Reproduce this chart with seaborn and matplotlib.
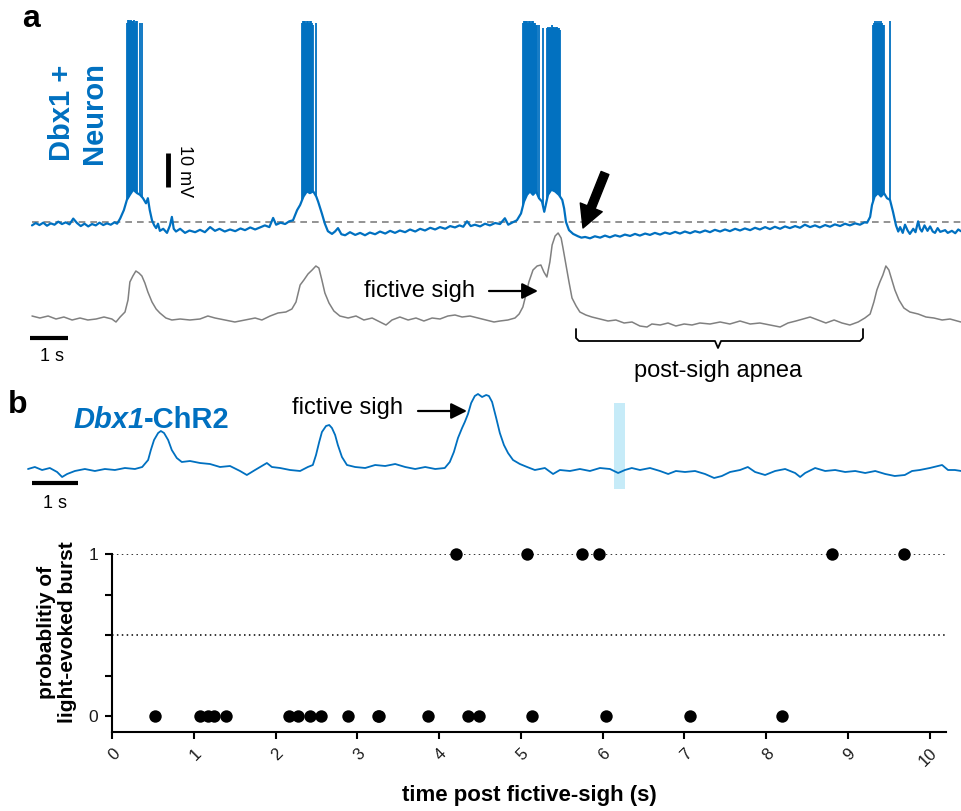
import numpy as np
import pandas as pd
import matplotlib
matplotlib.use("Agg")
import matplotlib.pyplot as plt
import seaborn as sns
from matplotlib.patches import Rectangle, FancyArrowPatch

# ---- panel a: Dbx1+ neuron membrane potential (time in s, mV) ----
neuron_t = [0.00, 0.10, 0.20, 0.30, 0.40, 0.50, 0.60, 0.70, 0.80, 0.90, 1.00, 1.10, 1.20, 1.30,
            1.40, 1.50, 1.60, 1.70, 1.80, 1.90, 2.00, 2.10, 2.20, 2.27, 2.35, 2.45, 2.53,
            2.61, 2.70, 2.80, 2.88, 2.96, 3.04, 3.09, 3.14, 3.20, 3.26, 3.31, 3.36, 3.41,
            3.50, 3.60, 3.68, 3.73, 3.78, 3.84, 3.95, 4.08, 4.20, 4.35, 4.48, 4.61, 4.75,
            4.88, 5.00, 5.14, 5.28, 5.42, 5.56, 5.68, 5.82, 5.95, 6.08, 6.21, 6.33, 6.43,
            6.51, 6.63, 6.75, 6.86, 6.96, 7.07, 7.15, 7.24, 7.33, 7.41, 7.50, 7.58, 7.63,
            7.73, 7.81, 7.89, 8.00, 8.08, 8.16, 8.25, 8.35, 8.48, 8.62, 8.75, 8.88, 9.01,
            9.15, 9.28, 9.42, 9.55, 9.68, 9.81, 9.95, 10.08, 10.22, 10.35, 10.48, 10.62,
            10.75, 10.88, 11.02, 11.15, 11.28, 11.40, 11.50, 11.60, 11.70, 11.81, 11.95,
            12.08, 12.21, 12.35, 12.48, 12.61, 12.70, 12.80, 12.93, 13.04, 13.12, 13.20,
            13.28, 13.36, 13.44, 13.52, 13.60, 13.66, 13.70, 13.76, 13.85, 13.95, 14.05,
            14.14, 14.19, 14.24, 14.32, 14.43, 14.56, 14.65, 14.75, 14.88, 15.01, 15.15,
            15.28, 15.41, 15.55, 15.68, 15.81, 15.95, 16.08, 16.21, 16.35, 16.48, 16.61,
            16.75, 16.88, 17.01, 17.15, 17.28, 17.41, 17.55, 17.68, 17.81, 17.95, 18.08,
            18.21, 18.35, 18.48, 18.61, 18.75, 18.88, 19.01, 19.15, 19.28, 19.41, 19.55,
            19.68, 19.81, 19.95, 20.08, 20.21, 20.35, 20.48, 20.61, 20.75, 20.88, 21.01,
            21.15, 21.28, 21.41, 21.55, 21.68, 21.81, 21.95, 22.08, 22.20, 22.27, 22.35,
            22.40, 22.47, 22.56, 22.64, 22.72, 22.80, 22.88, 22.96, 23.04, 23.10, 23.15,
            23.22, 23.28, 23.35, 23.41, 23.50, 23.56, 23.63, 23.68, 23.73, 23.80, 23.88,
            23.95, 24.02, 24.08, 24.15, 24.22, 24.35, 24.42, 24.53, 24.62, 24.70, 24.77]
neuron_mv = [-61.0, -60.3, -60.9, -60.2, -61.1, -60.4, -60.8, -59.9, -60.6, -60.1, -60.7, -59.0, -60.3, -61.2,
             -60.5, -61.3, -60.6, -61.0, -60.2, -60.9, -60.4, -60.8, -60.1, -60.5, -59.0, -56.5, -53.5,
             -52.0, -50.5, -51.5, -52.0, -53.0, -54.5, -53.0, -56.5, -59.5, -61.0, -61.8, -60.5, -62.6,
             -62.0, -63.2, -61.0, -58.5, -62.0, -62.8, -62.0, -63.2, -62.5, -63.0, -62.3, -63.0, -61.5,
             -62.6, -62.0, -62.8, -62.2, -62.7, -61.9, -62.4, -61.6, -62.2, -61.6, -61.0, -61.5, -58.8,
             -60.8, -60.2, -60.6, -59.8, -59.5, -56.5, -55.0, -52.5, -51.0, -51.5, -51.0, -52.5, -54.0,
             -57.5, -60.5, -62.7, -63.5, -62.8, -61.8, -63.6, -63.9, -63.0, -63.8, -63.2, -63.9, -63.1,
             -63.6, -62.8, -63.4, -62.6, -63.2, -62.5, -63.0, -62.2, -62.8, -62.0, -62.5, -61.7,
             -62.2, -61.5, -62.0, -61.2, -61.6, -61.0, -61.4, -59.8, -61.2, -60.8, -61.3,
             -60.5, -61.0, -60.3, -60.6, -58.9, -60.8, -60.2, -59.5, -57.5, -54.0, -52.0,
             -51.0, -52.0, -51.0, -53.0, -54.0, -57.0, -55.0, -52.0, -50.5, -51.0, -52.0,
             -53.5, -56.0, -60.0, -62.4, -63.5, -64.2, -64.6, -64.4, -64.8, -64.2, -64.6,
             -64.0, -64.5, -63.9, -64.3, -63.7, -64.1, -63.5, -64.0, -63.4, -63.8, -63.2,
             -63.7, -63.1, -63.5, -62.9, -63.4, -62.8, -63.3, -62.7, -63.1, -62.5, -63.0,
             -62.3, -62.8, -62.2, -62.7, -62.0, -62.5, -61.9, -62.4, -61.7, -62.2, -61.5,
             -62.1, -61.4, -62.0, -61.3, -61.8, -61.2, -61.7, -60.8, -61.5, -61.0, -61.6,
             -60.9, -61.4, -60.7, -61.2, -60.5, -61.0, -60.4, -60.8, -60.1, -60.2, -58.5,
             -55.0, -52.5, -51.5, -52.5, -51.5, -53.0, -53.5, -57.0, -61.0, -62.8, -61.5,
             -63.2, -60.8, -62.5, -63.5, -62.0, -63.0, -59.8, -62.0, -62.8, -61.0, -62.6,
             -61.3, -62.8, -63.2, -61.8, -62.9, -62.4, -63.2, -62.6, -63.3, -62.2, -62.7]
rest_mv = -60

# action potentials riding on the bursts
spike_t = [2.53, 2.56, 2.59, 2.61, 2.64, 2.67, 2.69, 2.72, 2.75, 2.77, 2.81, 2.87, 2.92,
           7.20, 7.23, 7.25, 7.28, 7.31, 7.33, 7.36, 7.39, 7.41, 7.44, 7.47, 7.49, 7.57,
           13.09, 13.12, 13.15, 13.17, 13.20, 13.23, 13.25, 13.28, 13.31, 13.33, 13.36, 13.39,
           13.41, 13.44, 13.47, 13.53, 13.63,
           13.73, 13.76, 13.79, 13.81, 13.84, 13.87, 13.89, 13.92, 13.95, 13.97, 14.00, 14.03,
           14.05, 14.08,
           22.43, 22.45, 22.48, 22.51, 22.53, 22.56, 22.59, 22.61, 22.64, 22.67, 22.69, 22.72, 22.88]
spike_peak_mv = [-1.5, -0.5, -0.5, -1.0, -0.5, -1.0, -1.0, -0.5, -1.5, -1.0, -1.0, -1.5, -1.5,
                 -1.5, -1.0, -1.0, -1.0, -1.5, -1.0, -1.0, -1.5, -1.0, -1.0, -1.5, -2.0, -1.5,
                 -1.5, -1.0, -1.0, -1.0, -1.0, -1.5, -1.0, -1.0, -1.5, -1.0, -1.0, -1.5,
                 -1.5, -2.0, -2.0, -2.0, -3.0,
                 -3.0, -2.5, -3.0, -2.5, -3.0, -2.0, -2.5, -2.5, -3.0, -2.5, -2.5, -3.0,
                 -3.0, -3.5,
                 -2.0, -1.5, -1.0, -1.5, -1.0, -1.5, -1.0, -1.5, -1.0, -1.5, -2.0, -2.0, -1.0]

# ---- panel a: fictive inspiratory output (a.u.) ----
xii_t = [0.00, 0.21, 0.43, 0.64, 0.85, 1.07, 1.28, 1.49, 1.71, 1.92, 2.13, 2.24, 2.35, 2.48,
         2.56, 2.61, 2.69, 2.77, 2.85, 2.93, 3.01, 3.09, 3.20, 3.31, 3.41, 3.57, 3.73, 3.95,
         4.21, 4.48, 4.69, 4.88, 5.15, 5.41, 5.68, 5.95, 6.13, 6.35, 6.56, 6.77, 6.93, 7.04,
         7.15, 7.25, 7.36, 7.47, 7.57, 7.65, 7.73, 7.81, 7.92, 8.05, 8.21, 8.43, 8.64, 8.85,
         9.07, 9.28, 9.44, 9.60, 9.81, 10.03, 10.24, 10.45, 10.67, 10.88, 11.09, 11.28, 11.47,
         11.68, 11.89, 12.11, 12.32, 12.48, 12.69, 12.88, 12.99, 13.09, 13.17, 13.25, 13.36,
         13.47, 13.57, 13.65, 13.73, 13.81, 13.87, 13.95, 14.03, 14.11, 14.16, 14.24, 14.32,
         14.40, 14.51, 14.61, 14.77, 14.93, 15.15, 15.36, 15.57, 15.79, 16.00, 16.21, 16.40,
         16.53, 16.75, 16.96, 17.17, 17.39, 17.60, 17.81, 18.08, 18.35, 18.61, 18.88, 19.15,
         19.41, 19.68, 19.95, 20.16, 20.37, 20.75, 20.96, 21.17, 21.39, 21.60, 21.81, 22.03,
         22.21, 22.35, 22.45, 22.53, 22.61, 22.69, 22.77, 22.85, 22.93, 23.01, 23.12, 23.25,
         23.41, 23.63, 23.84, 24.05, 24.27, 24.48, 24.77]
xii_au = [0.08, 0.04, 0.08, 0.02, 0.06, 0.00, 0.04, 0.00, 0.02, 0.06, 0.02, -0.04, 0.06, 0.16,
          0.40, 0.76, 0.88, 0.98, 0.94, 0.88, 0.74, 0.56, 0.36, 0.22, 0.14, 0.04, 0.00, 0.02,
          0.00, 0.02, 0.08, 0.04, 0.00, -0.04, 0.00, 0.04, 0.00, 0.08, 0.14, 0.16, 0.22, 0.36,
          0.70, 0.80, 0.92, 1.00, 1.08, 1.04, 0.80, 0.54, 0.34, 0.18, 0.08, 0.04, 0.08, 0.00,
          0.04, -0.04, -0.10, 0.00, 0.06, 0.00, 0.04, -0.02, 0.04, 0.02, 0.08, 0.10, 0.06,
          0.08, 0.04, 0.00, -0.04, -0.02, 0.00, 0.04, 0.12, 0.26, 0.50, 0.76, 1.00,
          1.08, 1.10, 0.96, 0.86, 1.16, 1.50, 1.68, 1.74, 1.64, 1.44, 1.10, 0.76,
          0.44, 0.28, 0.16, 0.10, 0.06, 0.02, -0.02, 0.00, -0.06, -0.04, -0.12, -0.14,
          -0.08, -0.10, -0.06, -0.12, -0.08, -0.10, -0.06, -0.08, -0.04, -0.08, -0.02, -0.08,
          -0.06, -0.10, -0.14, -0.06, -0.02, 0.06, 0.00, -0.06, 0.00, -0.06, -0.10, -0.04,
          0.04, 0.12, 0.36, 0.60, 0.76, 0.90, 1.08, 1.00, 0.80, 0.60, 0.40, 0.24,
          0.16, 0.12, 0.06, 0.04, 0.00, 0.02, -0.04]

# ---- panel b: Dbx1-ChR2 preBotC output (a.u.) ----
chr2_t = [0.00, 0.15, 0.31, 0.48, 0.64, 0.75, 0.86, 1.03, 1.25, 1.47, 1.69, 1.91, 2.13, 2.35,
          2.51, 2.64, 2.70, 2.77, 2.86, 2.92, 2.99, 3.08, 3.16, 3.27, 3.38, 3.56, 3.78, 4.00,
          4.22, 4.44, 4.66, 4.81, 4.99, 5.14, 5.25, 5.36, 5.54, 5.76, 5.98, 6.15, 6.26, 6.33,
          6.40, 6.46, 6.55, 6.62, 6.68, 6.75, 6.81, 6.90, 7.01, 7.19, 7.41, 7.63, 7.85, 8.07,
          8.29, 8.51, 8.73, 8.95, 9.16, 9.27, 9.36, 9.45, 9.54, 9.60, 9.67, 9.74, 9.82, 9.89,
          9.98, 10.07, 10.13, 10.20, 10.29, 10.37, 10.46, 10.55, 10.66, 10.81, 10.97, 11.14,
          11.36, 11.54, 11.69, 11.91, 12.13, 12.35, 12.57, 12.79, 12.97, 13.12, 13.27, 13.45,
          13.67, 13.89, 14.07, 14.24, 14.44, 14.66, 14.88, 15.08, 15.25, 15.43, 15.65, 15.82,
          15.98, 16.20, 16.42, 16.64, 16.86, 16.97, 17.08, 17.30, 17.52, 17.74, 17.96, 18.18,
          18.40, 18.62, 18.84, 19.05, 19.27, 19.43, 19.60, 19.82, 20.09, 20.22, 20.37, 20.51]
chr2_au = [0.02, 0.06, 0.00, 0.04, -0.04, -0.14, -0.08, -0.02, 0.02, -0.02, 0.02, 0.00, 0.04, 0.02,
           0.06, 0.20, 0.40, 0.60, 0.74, 0.78, 0.74, 0.60, 0.40, 0.24, 0.16, 0.18, 0.14, 0.12,
           0.06, 0.08, -0.02, -0.10, 0.00, 0.08, 0.14, 0.06, 0.04, 0.00, -0.02, 0.06, 0.10, 0.30,
           0.56, 0.76, 0.88, 0.90, 0.84, 0.70, 0.50, 0.26, 0.10, 0.06, 0.04, 0.10, 0.08, 0.12,
           0.06, 0.02, 0.06, 0.02, 0.04, 0.16, 0.36, 0.64, 0.84, 0.96, 1.12, 1.34, 1.48, 1.52,
           1.46, 1.50, 1.48, 1.36, 1.04, 0.74, 0.50, 0.34, 0.20, 0.12, 0.06, 0.00,
           0.04, -0.08, 0.00, -0.02, 0.02, -0.02, 0.04, 0.02, -0.06, 0.00, 0.04, 0.00,
           0.04, -0.02, -0.08, -0.02, -0.04, -0.02, -0.08, -0.16, -0.12, -0.04, 0.00, 0.06,
           -0.04, -0.10, -0.02, 0.02, -0.06, -0.14, -0.06, 0.04, -0.02, 0.00, -0.04, -0.02,
           -0.06, -0.02, -0.08, -0.12, -0.10, -0.02, 0.00, 0.04, 0.10, 0.00, 0.00, -0.02]
light_on, light_off = 12.88, 13.12

# ---- panel b: probability of light-evoked burst vs time after fictive sigh ----
t_no_burst = [0.52, 1.08, 1.17, 1.25, 1.39, 2.16, 2.27, 2.42, 2.55, 2.89, 3.25, 3.27,
              3.87, 4.35, 4.49, 5.14, 6.04, 7.07, 8.19]
t_burst = [4.21, 5.07, 5.75, 5.96, 8.80, 9.69]

W, H = 961, 811
BLUE = '#0070C0'
GREY = '#808080'
LIGHT = '#C6EBF8'

sns.set_theme(style='ticks')
plt.rcParams['font.family'] = ['Liberation Sans', 'DejaVu Sans']
plt.rcParams['text.color'] = 'black'
plt.rcParams['axes.labelcolor'] = 'black'

fig = plt.figure(figsize=(W / 100, H / 100), dpi=100)


def trace_axes(x0, px_x, y0, px_y):
    # overlay axes over the whole figure: value v lands y0 - v*px_y pixels from the top
    ax = fig.add_axes([0, 0, 1, 1])
    ax.set_xlim(-x0 / px_x, (W - x0) / px_x)
    ax.set_ylim((y0 - H) / px_y, y0 / px_y)
    ax.axis('off')
    ax.set_facecolor('none')
    return ax


# neuron trace
ax_n = trace_axes(32, 37.5, 18, 3.4)
ax_n.hlines(rest_mv, neuron_t[0], neuron_t[-1], color=GREY, lw=1.2, ls=(0, (4, 3)), zorder=1)
sns.lineplot(x=neuron_t, y=neuron_mv, ax=ax_n, color=BLUE, lw=1.6, estimator=None, sort=False, zorder=2)
spike_base = np.interp(spike_t, neuron_t, neuron_mv)
ax_n.vlines(spike_t, spike_base, spike_peak_mv, color=BLUE, lw=1.3, zorder=2)
ax_n.plot([3.63, 3.63], [-49.7, -39.7], color='black', lw=3.5, solid_capstyle='butt')

# fictive inspiration trace
ax_x = trace_axes(32, 37.5, 320, 50)
sns.lineplot(x=xii_t, y=xii_au, ax=ax_x, color=GREY, lw=1.1, estimator=None, sort=False)
ax_x.plot([-0.05, 0.95], [-0.354, -0.354], color='black', lw=3, solid_capstyle='butt')

# ChR2 trace
ax_b = trace_axes(28, 45.5, 470, 50)
ax_b.add_patch(Rectangle((light_on, -0.38), light_off - light_on, 1.72, color=LIGHT, lw=0, zorder=0))
sns.lineplot(x=chr2_t, y=chr2_au, ax=ax_b, color=BLUE, lw=1.3, estimator=None, sort=False, zorder=2)
ax_b.plot([0.095, 1.095], [-0.26, -0.26], color='black', lw=3, solid_capstyle='butt')

# scatter panel
df = pd.DataFrame({'time': t_no_burst + t_burst,
                   'prob': [0] * len(t_no_burst) + [1] * len(t_burst)})
ax = fig.add_axes([112 / W, 1 - 731.7 / H, (946 - 112) / W, (731.7 - 554.3) / H])
ax.set_xlim(0, 10.2)
ax.set_ylim(-0.097, 1.0)
for yv in (1, 0.5):
    ax.axhline(yv, color='black', lw=1.1, ls=(0, (1, 2.2)), zorder=1)
sns.scatterplot(data=df, x='time', y='prob', color='black', s=80, linewidth=0,
                ax=ax, clip_on=False, zorder=3, legend=False)
ax.set_xticks(range(11))
ax.set_xticklabels([str(i) for i in range(11)], rotation=45, ha='right', va='top',
                   rotation_mode='anchor', fontsize=12)
ax.set_yticks([0, 0.25, 0.5, 0.75, 1])
ax.set_yticklabels(['0', '', '', '', '1'], fontsize=12.5)
sns.despine(ax=ax)
for s in ('left', 'bottom'):
    ax.spines[s].set_linewidth(1.5)
    ax.spines[s].set_color('black')
ax.tick_params(width=1.5, length=5, color='black', labelcolor='#1a1a1a', pad=5)
ax.set_xlabel('time post fictive-sigh (s)', fontsize=16, fontweight='bold')
ax.xaxis.set_label_coords(0.5, -0.300)
ax.set_ylabel('probablitiy of\nlight-evoked burst', fontsize=15, fontweight='bold', linespacing=1.15)
ax.yaxis.set_label_coords(-0.042, 0.562)

# annotations in pixel space
ann = fig.add_axes([0, 0, 1, 1])
ann.set_xlim(0, W)
ann.set_ylim(H, 0)
ann.axis('off')
ann.set_facecolor('none')

ann.text(31, 27, 'a', fontsize=23, fontweight='bold', ha='center', va='baseline')
ann.text(18, 413, 'b', fontsize=23, fontweight='bold', ha='center', va='baseline')
ann.text(78, 113, 'Dbx1 +\nNeuron', rotation=90, fontsize=21, fontweight='bold', color=BLUE,
         ha='center', va='center', linespacing=1.15)
ann.text(185, 171, '10 mV', rotation=-90, fontsize=13, ha='center', va='center')
ann.text(52, 361, '1 s', fontsize=13, ha='center', va='baseline')
ann.text(55, 508, '1 s', fontsize=13, ha='center', va='baseline')

t1 = ann.text(73, 428, 'Dbx1', fontsize=21, fontweight='bold', fontstyle='italic', color=BLUE,
              ha='left', va='baseline')
ann.annotate('-ChR2', xy=(1, 0), xycoords=t1, fontsize=21, fontweight='bold', color=BLUE,
             ha='left', va='bottom')

ann.text(420, 297, 'fictive sigh', fontsize=17, ha='center', va='baseline')
ann.text(347, 414, 'fictive sigh', fontsize=17, ha='center', va='baseline')
ann.text(718, 377, 'post-sigh apnea', fontsize=17, ha='center', va='baseline')

thin = dict(arrowstyle='-|>,head_length=0.8,head_width=0.4', mutation_scale=12,
            color='black', lw=1.6, shrinkA=0, shrinkB=0)
ann.add_patch(FancyArrowPatch((489, 291), (538, 291), **thin))
ann.add_patch(FancyArrowPatch((418, 411), (467, 411), **thin))
ann.add_patch(FancyArrowPatch((605, 173), (583, 228), mutation_scale=1, color='black',
                              arrowstyle='simple,head_length=16,head_width=17,tail_width=6',
                              shrinkA=0, shrinkB=0))

bx = [576, 576, 579, 715, 718, 721, 860, 863, 863]
by = [329, 338, 341, 341, 348, 341, 341, 338, 329]
ann.plot(bx, by, color='black', lw=1.3)

fig.savefig('out.png', dpi=100)
